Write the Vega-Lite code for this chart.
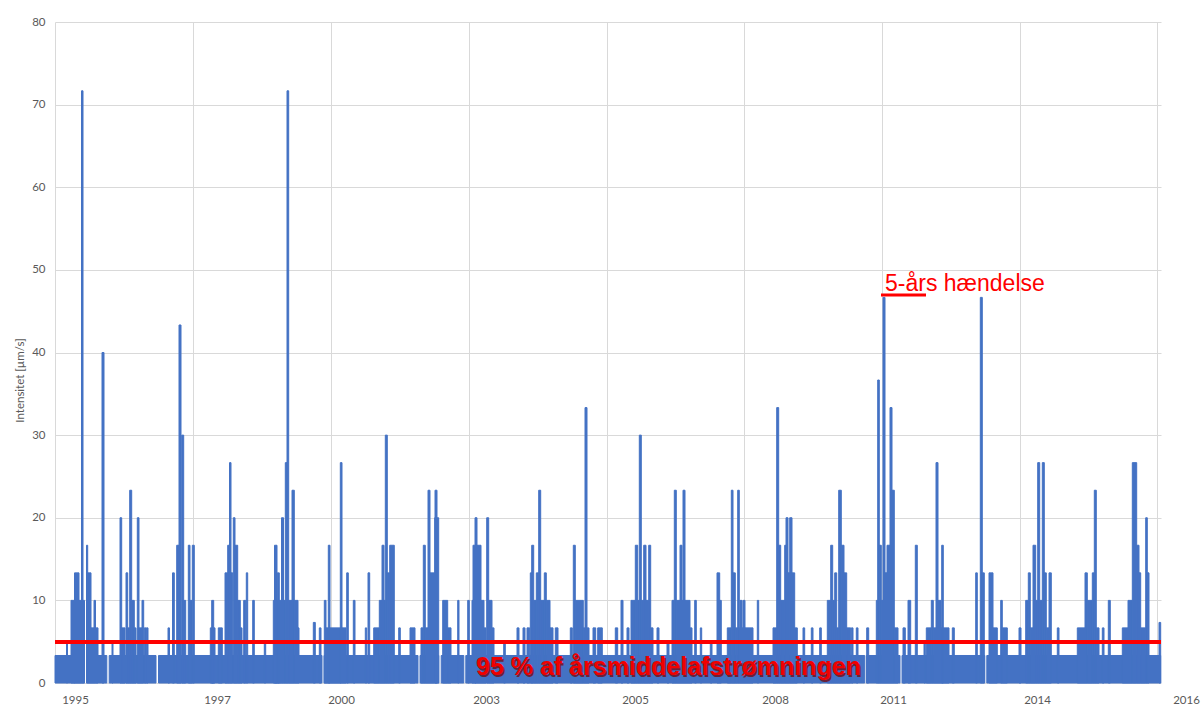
{
  "$schema": "https://vega.github.io/schema/vega-lite/v6.json",
  "autosize": "none",
  "width": 1106,
  "height": 661,
  "padding": {"left": 55, "top": 22, "right": 43, "bottom": 26},
  "background": "white",
  "config": {"view": {"stroke": null}, "font": "Lato"},
  "data": {"values": [
    {"a":0,"b":29.5,"v":3.33},{"a":31.5,"b":51.8,"v":3.33},{"a":54.2,"b":101,"v":3.33},{"a":103.5,"b":267,"v":3.33},{"a":269,"b":363,"v":3.33},{"a":365,"b":383.8,"v":3.33},{"a":386.2,"b":408.8,"v":3.33},{"a":410.8,"b":809.7,"v":3.33},{"a":811.3,"b":845,"v":3.33},{"a":847,"b":929.8,"v":3.33},{"a":931.8,"b":1105.7,"v":3.33},
    {"a":11.5,"b":12.5,"v":5},{"a":16,"b":20,"v":10},{"a":19.5,"b":24,"v":13.33},{"a":24,"b":26.5,"v":10},{"a":26.5,"b":28,"v":71.67},{"a":28,"b":29.5,"v":10},
    {"a":31.5,"b":32.7,"v":16.67},{"a":32.7,"b":36,"v":13.33},{"a":36,"b":39,"v":6.67},{"a":39,"b":40.5,"v":10},{"a":40.5,"b":43,"v":6.67},{"a":47,"b":49,"v":40},
    {"a":57,"b":58,"v":5},{"a":65,"b":66.7,"v":20},{"a":66.7,"b":70,"v":6.67},{"a":71,"b":72.7,"v":13.33},{"a":72.7,"b":74.7,"v":6.67},{"a":74.7,"b":76.7,"v":23.33},
    {"a":76.7,"b":79.3,"v":10},{"a":79.3,"b":81,"v":6.67},{"a":82.3,"b":84,"v":20},{"a":84,"b":87,"v":6.67},{"a":87,"b":88.7,"v":10},{"a":89.3,"b":91.7,"v":6.67},{"a":92,"b":93,"v":6.67},
    {"a":113,"b":114.5,"v":6.67},{"a":117.5,"b":119.3,"v":13.33},{"a":121.7,"b":124,"v":16.67},{"a":124,"b":126,"v":43.33},{"a":126.7,"b":128.7,"v":30},{"a":128.7,"b":130.7,"v":10},
    {"a":133.3,"b":135,"v":16.67},{"a":135,"b":137,"v":10},{"a":137.3,"b":139.3,"v":16.67},{"a":155.3,"b":160,"v":6.67},{"a":156.7,"b":158.7,"v":10},{"a":163.3,"b":167.3,"v":6.67},
    {"a":170,"b":172.7,"v":13.33},{"a":172.7,"b":174.5,"v":16.67},{"a":174.5,"b":176,"v":26.67},{"a":176,"b":177.7,"v":13.33},{"a":178.3,"b":180,"v":20},{"a":180,"b":182.7,"v":16.67},
    {"a":182.7,"b":185.3,"v":10},{"a":185.3,"b":187,"v":6.67},{"a":188.7,"b":190.7,"v":10},{"a":191.3,"b":192.7,"v":13.33},{"a":197.7,"b":199.3,"v":10},{"a":209.3,"b":210.7,"v":5},
    {"a":218.3,"b":222,"v":10},{"a":219.5,"b":222,"v":16.67},{"a":222,"b":226.5,"v":10},{"a":222.3,"b":224.3,"v":13.33},{"a":226.5,"b":228.5,"v":20},{"a":228.5,"b":230.3,"v":10},
    {"a":230.3,"b":232,"v":26.67},{"a":232,"b":233.7,"v":71.67},{"a":233.7,"b":237,"v":10},{"a":237,"b":239.3,"v":23.33},{"a":239.3,"b":243,"v":10},{"a":243,"b":244,"v":6.67},
    {"a":258.3,"b":260.3,"v":7.33},{"a":264.3,"b":266,"v":6.67},{"a":269.3,"b":271,"v":10},{"a":271,"b":274.3,"v":6.67},{"a":273.3,"b":275,"v":16.67},{"a":274.3,"b":286,"v":6.67},
    {"a":285.3,"b":287,"v":26.67},{"a":287,"b":291,"v":6.67},{"a":291.7,"b":293.3,"v":13.33},{"a":298.3,"b":300,"v":10},{"a":310.3,"b":311.7,"v":6.67},{"a":313,"b":314.7,"v":13.33},
    {"a":318.7,"b":324.3,"v":6.67},{"a":324.3,"b":327,"v":10},{"a":327,"b":329,"v":16.67},{"a":329,"b":330.3,"v":10},{"a":330.3,"b":332.3,"v":30},{"a":332.3,"b":334.7,"v":13.33},
    {"a":334.7,"b":339.3,"v":16.67},{"a":343.7,"b":345.3,"v":6.67},{"a":355,"b":360,"v":6.67},{"a":366,"b":368.3,"v":6.67},{"a":368.3,"b":370.3,"v":16.67},{"a":370.3,"b":373,"v":6.67},
    {"a":373,"b":375,"v":23.33},{"a":375,"b":379.7,"v":13.33},{"a":379.7,"b":383.7,"v":20},{"a":380,"b":382,"v":23.33},{"a":387.7,"b":392.7,"v":10},{"a":392.7,"b":396,"v":6.67},
    {"a":402.7,"b":404,"v":10},{"a":412.7,"b":414.3,"v":10},{"a":417,"b":418,"v":10},{"a":418,"b":421,"v":16.67},{"a":420,"b":422,"v":20},{"a":422,"b":426,"v":16.67},{"a":426,"b":429,"v":10},
    {"a":429,"b":431,"v":6.67},{"a":431.7,"b":433.7,"v":20},{"a":433.7,"b":437,"v":10},{"a":437,"b":439,"v":6.67},
    {"a":448.7,"b":450.3,"v":5},{"a":462,"b":464,"v":6.67},{"a":468,"b":470,"v":6.67},{"a":472,"b":474.7,"v":6.67},{"a":475.3,"b":477.3,"v":13.33},{"a":476.7,"b":478.7,"v":16.67},
    {"a":478.7,"b":481.3,"v":10},{"a":481.3,"b":483.7,"v":13.33},{"a":483.7,"b":485.7,"v":23.33},{"a":485.7,"b":489.3,"v":10},{"a":489.3,"b":491.3,"v":13.33},{"a":491.3,"b":495,"v":10},
    {"a":495,"b":498,"v":6.67},{"a":500.3,"b":503,"v":6.67},{"a":515.3,"b":517.3,"v":6.67},{"a":518.3,"b":520.3,"v":16.67},{"a":520.3,"b":528.3,"v":10},{"a":528.3,"b":530,"v":6.67},
    {"a":530,"b":532,"v":33.33},{"a":532,"b":534,"v":6.67},{"a":538,"b":540.7,"v":6.67},{"a":542.7,"b":547.3,"v":6.67},{"a":560.3,"b":562.7,"v":6.67},{"a":566,"b":568,"v":10},
    {"a":572,"b":574,"v":6.67},{"a":576,"b":580.3,"v":10},{"a":580.3,"b":582.7,"v":16.67},{"a":582.7,"b":584.3,"v":10},{"a":584.3,"b":586.3,"v":30},{"a":586.3,"b":588.7,"v":10},
    {"a":588.7,"b":591,"v":16.67},{"a":591,"b":593.7,"v":10},{"a":593.7,"b":595.7,"v":16.67},{"a":595.7,"b":598,"v":6.67},{"a":602,"b":604,"v":6.67},{"a":612,"b":614,"v":5},
    {"a":617,"b":619.3,"v":10},{"a":619.3,"b":621.3,"v":23.33},{"a":621.3,"b":625,"v":10},{"a":625,"b":627,"v":16.67},{"a":627,"b":628,"v":10},{"a":628,"b":630,"v":23.33},
    {"a":630,"b":635,"v":10},{"a":635,"b":637,"v":6.67},{"a":639.7,"b":641.3,"v":10},{"a":645.3,"b":646.7,"v":6.67},{"a":655.3,"b":657,"v":5},{"a":662,"b":664.7,"v":13.33},
    {"a":664.7,"b":666.3,"v":10},{"a":672.3,"b":676.3,"v":6.67},{"a":676.3,"b":678,"v":23.33},{"a":678,"b":680.3,"v":13.33},{"a":680.3,"b":682.7,"v":6.67},{"a":682.7,"b":684.3,"v":23.33},
    {"a":684.3,"b":685,"v":6.67},{"a":685,"b":687,"v":10},{"a":687,"b":688,"v":6.67},{"a":688,"b":690,"v":10},{"a":690,"b":698,"v":6.67},{"a":702.3,"b":703.7,"v":10},
    {"a":718,"b":721.7,"v":6.67},{"a":721.7,"b":723.7,"v":33.33},{"a":723.7,"b":725.7,"v":16.67},{"a":725.7,"b":729.7,"v":10},{"a":729.7,"b":731,"v":16.67},{"a":731,"b":733,"v":20},
    {"a":733,"b":734.7,"v":13.33},{"a":734.7,"b":737,"v":20},{"a":737,"b":739.7,"v":13.33},{"a":739.7,"b":742.3,"v":6.67},{"a":748,"b":749.7,"v":6.67},{"a":756.3,"b":758,"v":6.67},
    {"a":764.7,"b":766.3,"v":6.67},{"a":772.3,"b":775.7,"v":10},{"a":775.7,"b":777.7,"v":16.67},{"a":777.7,"b":779.7,"v":10},{"a":779.7,"b":781.7,"v":13.33},{"a":781.7,"b":783.7,"v":6.67},
    {"a":783.7,"b":786.3,"v":23.33},{"a":786.3,"b":789,"v":16.67},{"a":789,"b":791.7,"v":13.33},{"a":791.7,"b":795.7,"v":6.67},{"a":796.3,"b":798,"v":6.67},{"a":801.3,"b":803,"v":6.67},
    {"a":811.7,"b":813.7,"v":6.67},{"a":821.3,"b":822.7,"v":10},{"a":822.7,"b":824.3,"v":36.67},{"a":824.3,"b":826.3,"v":16.67},{"a":826.3,"b":828,"v":10},{"a":828,"b":830,"v":46.67},
    {"a":830,"b":832,"v":13.33},{"a":832,"b":835,"v":16.67},{"a":835,"b":837,"v":33.33},{"a":837,"b":839.3,"v":23.33},{"a":839.3,"b":843,"v":6.67},{"a":848,"b":850.3,"v":6.67},
    {"a":853,"b":855.7,"v":10},{"a":860.3,"b":862.3,"v":16.67},{"a":869,"b":870.3,"v":5},{"a":871.3,"b":876.3,"v":6.67},{"a":876.3,"b":878.3,"v":10},{"a":878.3,"b":881,"v":6.67},
    {"a":881,"b":883,"v":26.67},{"a":883,"b":886,"v":10},{"a":886,"b":894,"v":6.67},{"a":886.7,"b":888.3,"v":16.67},{"a":897.3,"b":899.3,"v":6.67},
    {"a":920.7,"b":922.3,"v":13.33},{"a":925.3,"b":927.3,"v":46.67},{"a":927.3,"b":929.3,"v":13.33},{"a":934,"b":938,"v":13.33},{"a":938,"b":942.3,"v":6.67},{"a":945.7,"b":947.3,"v":10},
    {"a":947.3,"b":952.3,"v":6.67},{"a":964,"b":966,"v":6.67},{"a":970.7,"b":973.3,"v":10},{"a":973.3,"b":975.3,"v":13.33},{"a":975.3,"b":978,"v":6.67},{"a":978,"b":980.7,"v":16.67},
    {"a":980.7,"b":982.7,"v":10},{"a":982.7,"b":984.7,"v":26.67},{"a":984.7,"b":987.3,"v":10},{"a":987.3,"b":989.3,"v":26.67},{"a":989.3,"b":991.3,"v":13.33},{"a":991.3,"b":994,"v":6.67},
    {"a":994,"b":996.3,"v":13.33},{"a":1002.3,"b":1004,"v":6.67},{"a":1022.3,"b":1030,"v":6.67},{"a":1030,"b":1032.3,"v":13.33},{"a":1032.3,"b":1037.3,"v":10},{"a":1037.3,"b":1039.3,"v":13.33},
    {"a":1039.3,"b":1041.3,"v":23.33},{"a":1041.3,"b":1044,"v":6.67},{"a":1047.3,"b":1049,"v":6.67},{"a":1053.3,"b":1055.3,"v":10},{"a":1067.3,"b":1073,"v":6.67},{"a":1073,"b":1077.3,"v":10},
    {"a":1077.3,"b":1081.7,"v":26.67},{"a":1081.7,"b":1084,"v":16.67},{"a":1084,"b":1085.7,"v":13.33},{"a":1085.7,"b":1090.7,"v":6.67},{"a":1090.7,"b":1092.3,"v":20},{"a":1092.3,"b":1094,"v":13.33},
    {"a":1104,"b":1105.7,"v":7.33}
  ]},
  "layer": [
    {
      "mark": {"type": "rect", "color": "#4472C4", "stroke": "#4472C4", "strokeWidth": 1},
      "encoding": {
        "x": {"field": "a", "type": "quantitative",
          "scale": {"domain": [0, 1106], "nice": false, "zero": false},
          "axis": {
            "title": null,
            "values": [0, 138, 276, 414, 552, 689, 827, 965, 1102],
            "grid": true, "gridColor": "#D9D9D9", "gridWidth": 1,
            "domain": false, "ticks": false,
            "labelExpr": "['1995','1997','2000','2003','2005','2008','2011','2014','2016'][round(datum.value/138)]",
            "labelOffset": {"condition": [
              {"test": "datum.value == 0", "value": 20},
              {"test": "datum.value == 138", "value": 24},
              {"test": "datum.value == 276", "value": 10},
              {"test": "datum.value == 414", "value": 17},
              {"test": "datum.value == 552", "value": 28},
              {"test": "datum.value == 689", "value": 31},
              {"test": "datum.value == 827", "value": 11},
              {"test": "datum.value == 965", "value": 17}
            ], "value": 29},
            "labelFlush": false, "labelOverlap": false, "labelPadding": 11,
            "labelColor": "#595959", "labelFontSize": 11.5, "labelFont": "Lato"
          }},
        "x2": {"field": "b"},
        "y": {"field": "v", "type": "quantitative",
          "scale": {"domain": [0, 80], "nice": false},
          "axis": {
            "title": "Intensitet [µm/s]",
            "values": [0, 10, 20, 30, 40, 50, 60, 70, 80],
            "grid": true, "gridColor": "#D9D9D9", "gridWidth": 1,
            "domain": false, "ticks": false, "labelPadding": 10,
            "labelColor": "#595959", "labelFontSize": 11.5, "labelFont": "Lato",
            "titleColor": "#595959", "titleFontSize": 11.5, "titleFont": "Lato", "titleFontWeight": "normal", "titlePadding": 6, "titleY": 358
          }},
        "y2": {"datum": 0}
      }
    },
    {
      "mark": {"type": "rule", "color": "#FF0000", "strokeWidth": 3},
      "encoding": {"y": {"datum": 5}}
    },
    {
      "data": {"values": [{"a": 826, "b": 871, "v": 46.95}]},
      "mark": {"type": "rule", "color": "#FF0000", "strokeWidth": 3},
      "encoding": {
        "x": {"field": "a", "type": "quantitative", "axis": {"title": null}},
        "x2": {"field": "b"},
        "y": {"field": "v", "type": "quantitative", "axis": {"title": "Intensitet [µm/s]"}}
      }
    },
    {
      "data": {"values": [{"a": 421, "v": 0.95, "label": "95 % af årsmiddelafstrømningen"}]},
      "mark": {"type": "text", "align": "left", "baseline": "alphabetic", "font": "Liberation Sans", "fontWeight": "bold", "fontSize": 25, "color": "#7A0000", "opacity": 0.7, "dx": 1.5, "dy": 1.5},
      "encoding": {
        "x": {"field": "a", "type": "quantitative", "axis": {"title": null}},
        "y": {"field": "v", "type": "quantitative", "axis": {"title": "Intensitet [µm/s]"}},
        "text": {"field": "label"}
      }
    },
    {
      "data": {"values": [{"a": 421, "v": 0.95, "label": "95 % af årsmiddelafstrømningen"}]},
      "mark": {"type": "text", "align": "left", "baseline": "alphabetic", "font": "Liberation Sans", "fontWeight": "bold", "fontSize": 25, "color": "#F00000"},
      "encoding": {
        "x": {"field": "a", "type": "quantitative", "axis": {"title": null}},
        "y": {"field": "v", "type": "quantitative", "axis": {"title": "Intensitet [µm/s]"}},
        "text": {"field": "label"}
      }
    },
    {
      "data": {"values": [{"a": 830, "v": 47.48, "label": "5-års hændelse"}]},
      "mark": {"type": "text", "align": "left", "baseline": "alphabetic", "font": "Liberation Sans", "fontSize": 23, "color": "#FF0000"},
      "encoding": {
        "x": {"field": "a", "type": "quantitative", "axis": {"title": null}},
        "y": {"field": "v", "type": "quantitative", "axis": {"title": "Intensitet [µm/s]"}},
        "text": {"field": "label"}
      }
    }
  ]
}
